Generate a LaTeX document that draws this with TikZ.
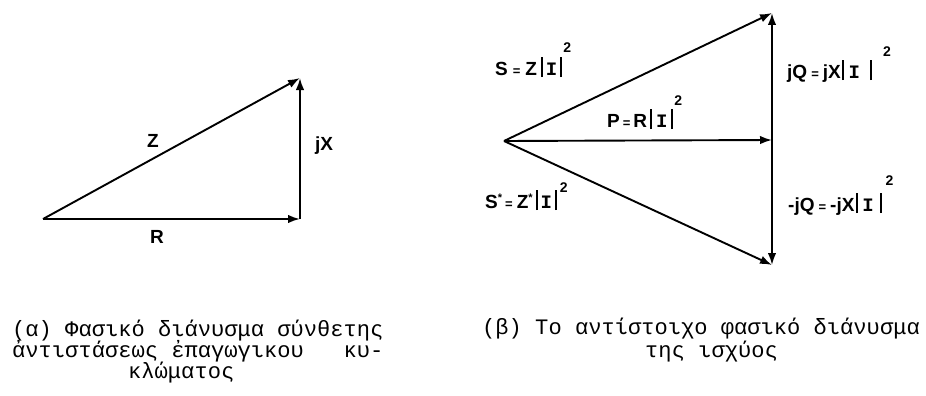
\documentclass[tikz,border=0pt]{standalone}
\usepackage{fontspec}
\setmainfont{Liberation Sans}
\newfontfamily\capfont{Liberation Mono}
\newfontfamily\lblfont{Liberation Sans}
\newfontfamily\monoI{Liberation Mono}
\usetikzlibrary{arrows.meta}
\newcommand{\vb}{\rule[-2pt]{1.9pt}{20pt}}
\newcommand{\II}{{\monoI\bfseries I}}
\newcommand{\eqs}{{\fontsize{13}{13}\selectfont =}}
\newcommand{\sq}[1]{\raisebox{#1pt}{\fontsize{14}{14}\selectfont 2}}
\newcommand{\cnj}{\raisebox{7pt}{\fontsize{11}{11}\selectfont *}}
\begin{document}
\begin{tikzpicture}[x=1pt,y=-1pt,
  vec/.style={line width=1.9pt,-{Latex[length=12pt,width=8.5pt]}},
  lbl/.style={inner sep=0pt,font=\lblfont\bfseries\fontsize{19}{21}\selectfont},
  lblb/.style={lbl,anchor=base west},
  captxt/.style={inner sep=0pt,anchor=base west,font=\capfont\fontsize{22.1}{21}\selectfont}]
\useasboundingbox (0,0) rectangle (926,396);
% (a)
\coordinate (O1) at (43,219);
\coordinate (A1) at (300,219);
\coordinate (B1) at (300,78);
\draw[vec] (O1) -- (A1);
\draw[vec] (A1) -- (B1);
\draw[vec] (O1) -- (B1);
\node[lbl] (Z) at (153,141) {Z};
\node[lbl] (jX) at (324,146) {jX};
\node[lbl] (R) at (157,237) {R};
% (b)
\coordinate (O2) at (504,141);
\coordinate (T2) at (772,13);
\coordinate (M2) at (772,140);
\coordinate (D2) at (772,265);
\draw[vec] (O2) -- (T2);
\draw[vec] (O2) -- (M2);
\draw[vec] (O2) -- (D2);
\draw[vec] (M2) -- (T2);
\draw[vec] (M2) -- (D2);
\node[lblb] (S) at (495,75) {S\hspace{5pt}\eqs\hspace{5pt}Z\hspace{4pt}\vb\hspace{3pt}\II\hspace{3pt}\vb\hspace{1pt}\sq{23}};
\node[lblb] (P) at (607,127) {P\hspace{3pt}\eqs\hspace{3pt}R\hspace{3pt}\vb\hspace{4pt}\II\hspace{4pt}\vb\hspace{1pt}\sq{22}};
\node[lblb] (Sc) at (485,208) {S\cnj\hspace{3pt}\eqs\hspace{4pt}Z\cnj\hspace{3pt}\vb\hspace{3pt}\II\hspace{3pt}\vb\hspace{3pt}\sq{16}};
\node[lblb] (jQ) at (787,78) {jQ\hspace{4pt}\eqs\hspace{4pt}jX\hspace{1pt}\vb\hspace{5pt}\II\hspace{10pt}\vb\hspace{11pt}\sq{21}};
\node[lblb] (mjQ) at (788,211) {-jQ\hspace{4pt}\eqs\hspace{4pt}-jX\hspace{2pt}\vb\hspace{4pt}\II\hspace{6pt}\vb\hspace{4pt}\sq{26}};
% captions
\node[captxt] (ca1) at (12,336) {(α) Φασικό διάνυσμα σύνθετης};
\node[captxt] (ca2) at (12,357) {ἀντιστάσεως ἐπαγωγικου\ \ \ κυ-};
\node[captxt] (ca3) at (128,378) {κλώματος};
\node[captxt] (cb1) at (482,334) {(β) Το αντίστοιχο φασικό διάνυσμα};
\node[captxt] (cb2) at (645,357) {της ισχύος};
\end{tikzpicture}
\end{document}
